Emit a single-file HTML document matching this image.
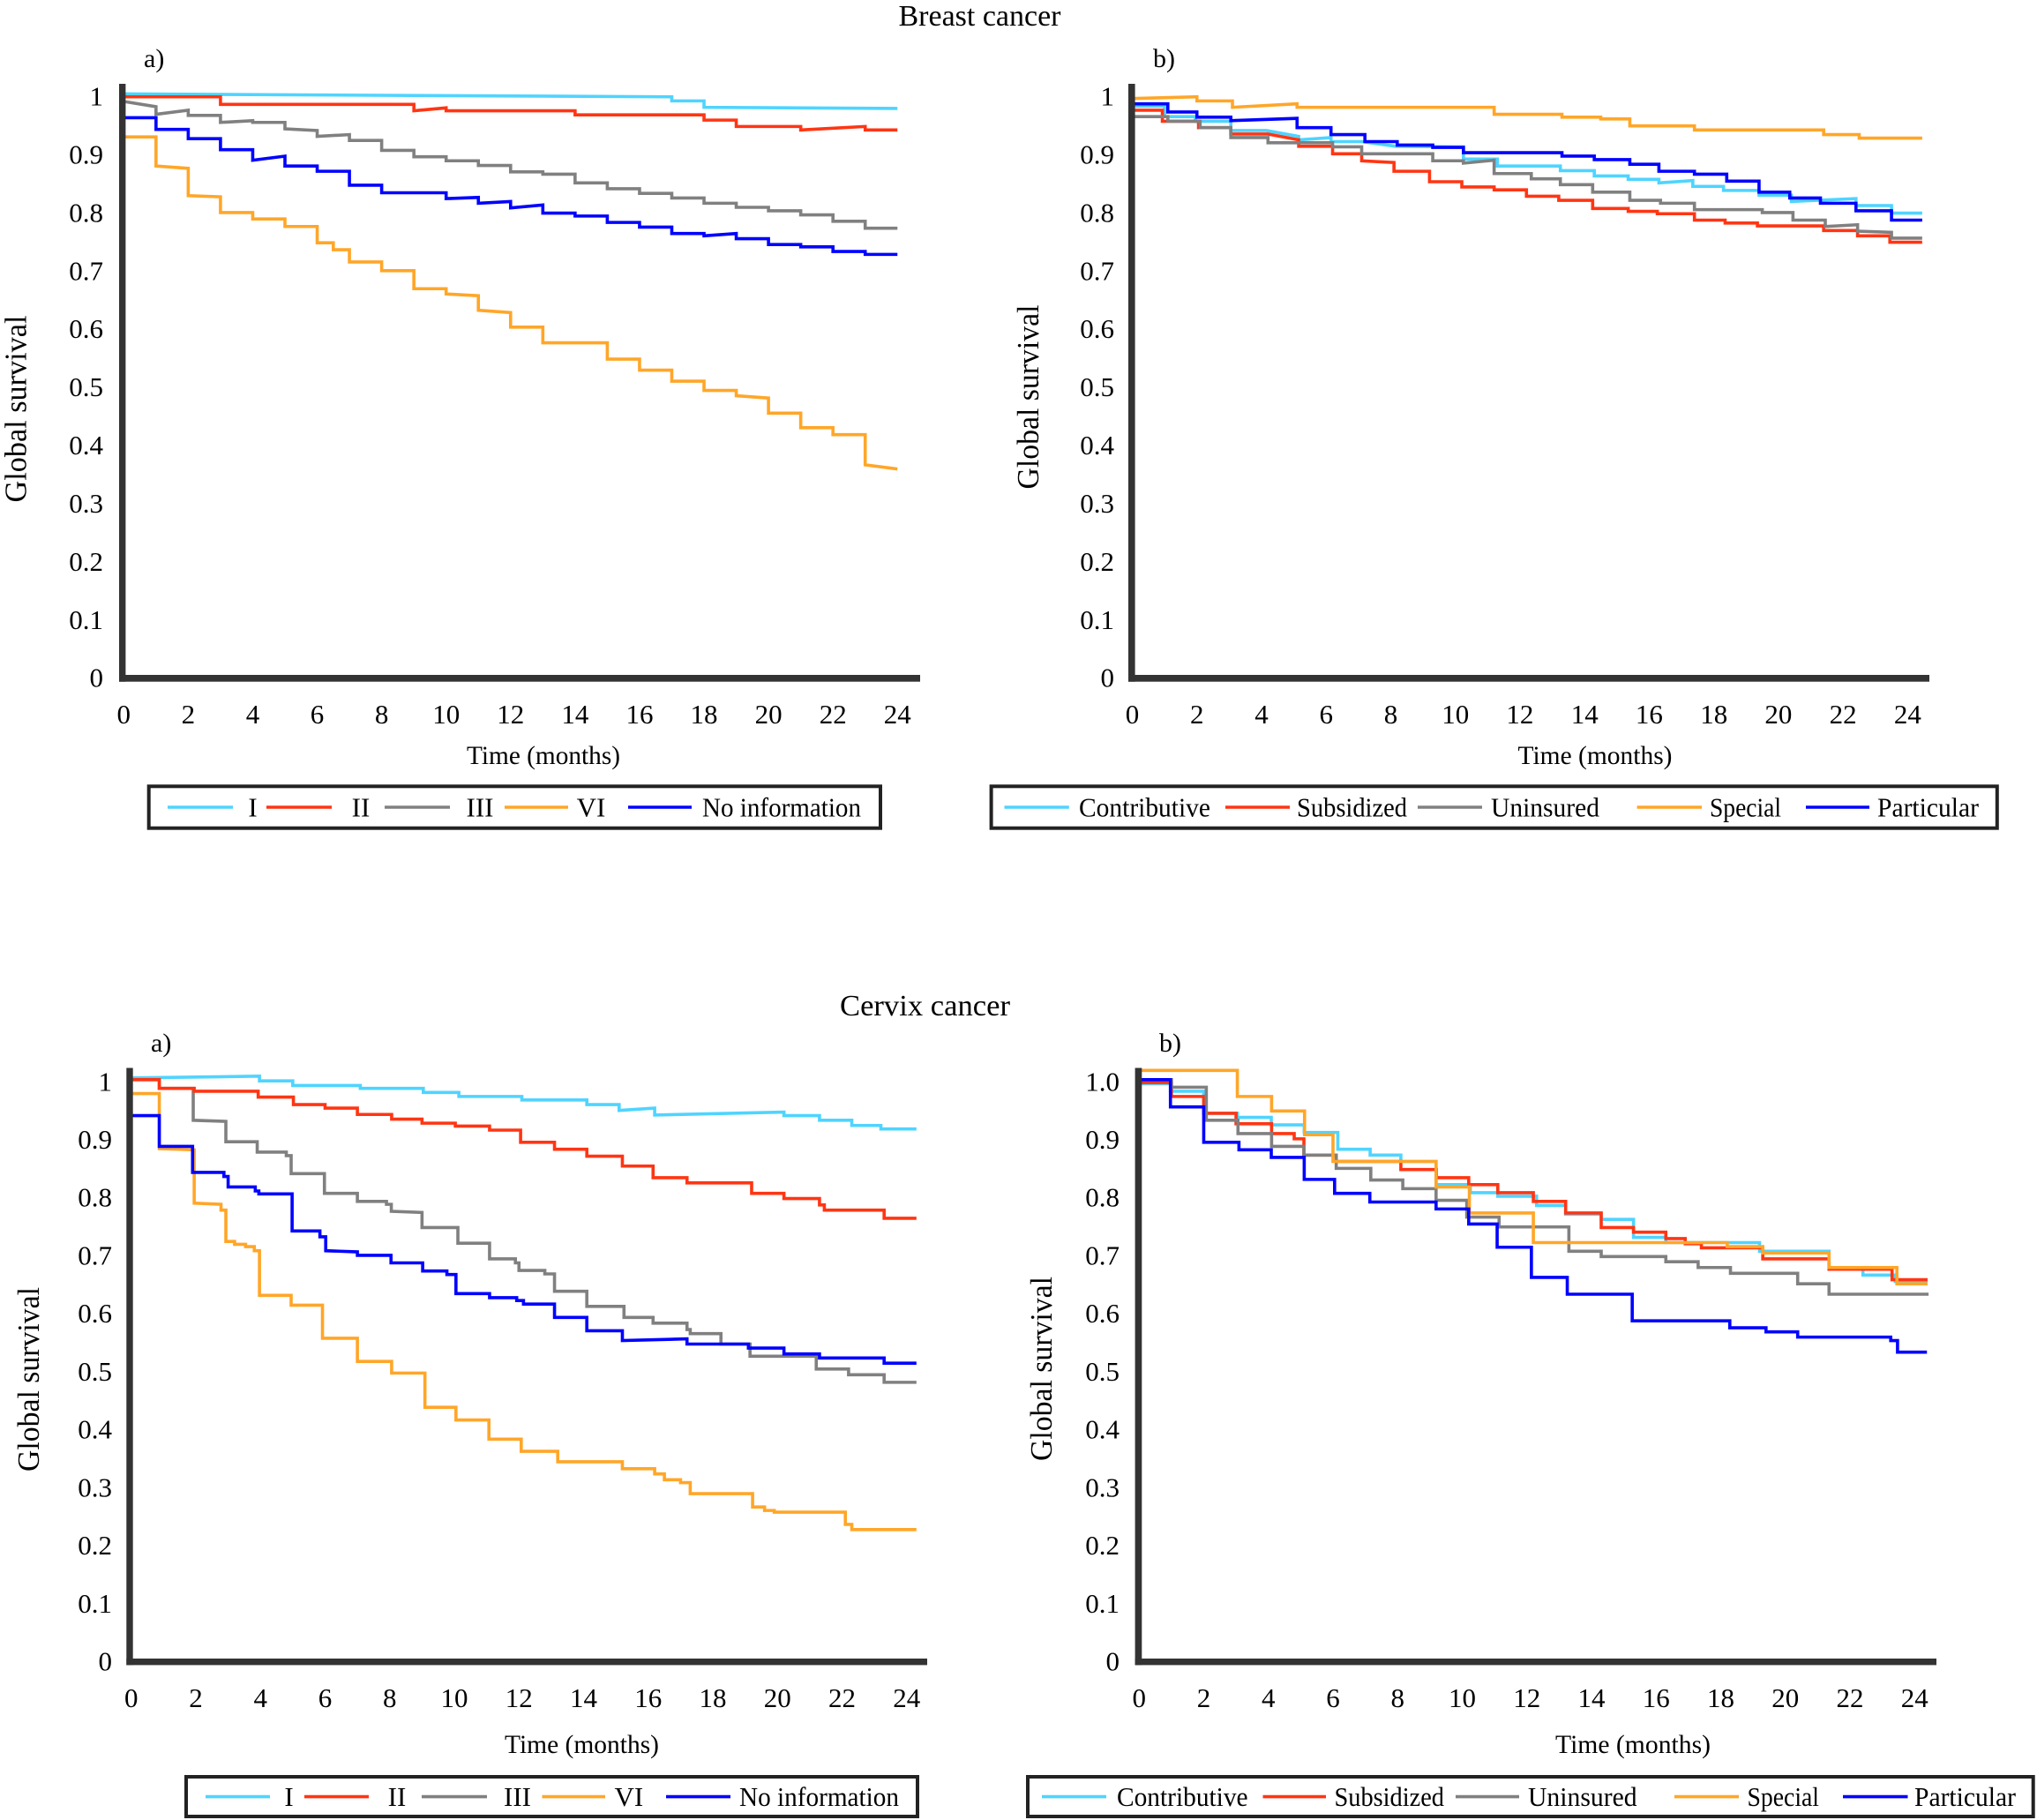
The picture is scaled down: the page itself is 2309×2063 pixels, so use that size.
<!DOCTYPE html>
<html>
<head>
<meta charset="utf-8">
<style>
html,body{margin:0;padding:0;background:#fff;}
svg{display:block;}
text{font-family:"Liberation Serif",serif;fill:#000;}
.t{font-size:31px;}
.c polyline{fill:none;stroke-width:3.6;stroke-linejoin:miter;stroke-linecap:butt;}
.cy{stroke:#4FD4FF;} .rd{stroke:#FF3513;} .gy{stroke:#808080;} .or{stroke:#FFA628;} .bl{stroke:#0000FF;}
</style>
</head>
<body>
<svg width="2309" height="2063" viewBox="0 0 2309 2063" xmlns="http://www.w3.org/2000/svg">
<rect width="2309" height="2063" fill="#fff"/>

<!-- Titles -->
<text x="1110.5" y="29" font-size="34" text-anchor="middle" textLength="184" lengthAdjust="spacingAndGlyphs">Breast cancer</text>
<text x="1048.5" y="1151" font-size="34" text-anchor="middle" textLength="193" lengthAdjust="spacingAndGlyphs">Cervix cancer</text>

<!-- ============ TOP LEFT ============ -->
<text x="163" y="76" font-size="30">a)</text>
<g class="c" transform="translate(140.3,768.2) scale(36.54,-659.1)">
<polyline class="cy" vector-effect="non-scaling-stroke" points="0,1.004 17,0.999 17,0.992 18,0.992 18,0.981 24,0.979"/>
<polyline class="rd" vector-effect="non-scaling-stroke" points="0,0.999 3,0.999 3,0.986 9,0.986 9,0.975 10,0.98 10,0.975 14,0.975 14,0.968 18,0.968 18,0.959 19,0.959 19,0.948 21,0.948 21,0.942 23,0.948 23,0.942 24,0.942"/>
<polyline class="gy" vector-effect="non-scaling-stroke" points="0,0.991 1,0.982 1,0.969 2,0.976 2,0.967 3,0.967 3,0.955 4,0.958 4,0.955 5,0.955 5,0.944 6,0.941 6,0.931 7,0.934 7,0.924 8,0.924 8,0.907 9,0.907 9,0.896 10,0.896 10,0.889 11,0.889 11,0.881 12,0.881 12,0.870 13,0.870 13,0.866 14,0.866 14,0.851 15,0.851 15,0.841 16,0.841 16,0.833 17,0.833 17,0.825 18,0.825 18,0.816 19,0.816 19,0.809 20,0.809 20,0.803 21,0.803 21,0.796 22,0.796 22,0.785 23,0.785 23,0.773 24,0.773"/>
<polyline class="or" vector-effect="non-scaling-stroke" points="0,1.0 0,0.930 1,0.930 1,0.880 2,0.876 2,0.829 3,0.827 3,0.800 4,0.800 4,0.789 5,0.789 5,0.776 6,0.776 6,0.748 6.5,0.748 6.5,0.736 7,0.736 7,0.715 8,0.715 8,0.700 9,0.700 9,0.669 10,0.669 10,0.660 11,0.657 11,0.632 12,0.628 12,0.603 13,0.603 13,0.576 15,0.576 15,0.548 16,0.548 16,0.529 17,0.529 17,0.510 18,0.510 18,0.494 19,0.494 19,0.485 20,0.481 20,0.455 21,0.455 21,0.430 22,0.430 22,0.418 23,0.418 23,0.366 24,0.359"/>
<polyline class="bl" vector-effect="non-scaling-stroke" points="0,0.985 0,0.963 1,0.963 1,0.943 2,0.943 2,0.927 3,0.927 3,0.908 4,0.908 4,0.890 5,0.897 5,0.880 6,0.880 6,0.871 7,0.871 7,0.847 8,0.847 8,0.834 10,0.834 10,0.824 11,0.826 11,0.816 12,0.819 12,0.808 13,0.813 13,0.799 14,0.799 14,0.794 15,0.794 15,0.783 16,0.783 16,0.775 17,0.775 17,0.764 18,0.764 18,0.760 19,0.764 19,0.755 20,0.755 20,0.745 21,0.745 21,0.741 22,0.741 22,0.733 23,0.733 23,0.728 24,0.728"/>
</g>
<rect x="135" y="95" width="7.4" height="677.7" fill="#333"/>
<rect x="135" y="765" width="908" height="7.7" fill="#333"/>
<g class="t" text-anchor="end">
<text x="117" y="119.6">1</text>
<text x="117" y="185.5">0.9</text>
<text x="117" y="251.4">0.8</text>
<text x="117" y="317.3">0.7</text>
<text x="117" y="383.2">0.6</text>
<text x="117" y="449.2">0.5</text>
<text x="117" y="515.1">0.4</text>
<text x="117" y="581.0">0.3</text>
<text x="117" y="646.9">0.2</text>
<text x="117" y="712.8">0.1</text>
<text x="117" y="778.7">0</text>
</g>
<g class="t" text-anchor="middle">
<text x="140.3" y="820">0</text>
<text x="213.4" y="820">2</text>
<text x="286.5" y="820">4</text>
<text x="359.5" y="820">6</text>
<text x="432.6" y="820">8</text>
<text x="505.7" y="820">10</text>
<text x="578.8" y="820">12</text>
<text x="651.9" y="820">14</text>
<text x="725" y="820">16</text>
<text x="798" y="820">18</text>
<text x="871.1" y="820">20</text>
<text x="944.2" y="820">22</text>
<text x="1017.3" y="820">24</text>
</g>
<text x="616" y="866" font-size="30" text-anchor="middle" textLength="174" lengthAdjust="spacingAndGlyphs">Time (months)</text>
<text transform="translate(29.5,463.5) rotate(-90)" font-size="35" text-anchor="middle" textLength="212" lengthAdjust="spacingAndGlyphs">Global survival</text>
<rect x="168.7" y="891.3" width="829.3" height="47.4" fill="#fff" stroke="#222" stroke-width="4"/>
<g stroke-width="3.6">
<line x1="190" y1="915" x2="264" y2="915" stroke="#4FD4FF"/>
<line x1="302" y1="915" x2="376" y2="915" stroke="#FF3513"/>
<line x1="436" y1="915" x2="510" y2="915" stroke="#808080"/>
<line x1="572" y1="915" x2="644" y2="915" stroke="#FFA628"/>
<line x1="712" y1="915" x2="784" y2="915" stroke="#0000FF"/>
</g>
<g class="t">
<text x="286.5" y="925.7" text-anchor="middle">I</text>
<text x="409" y="925.7" text-anchor="middle">II</text>
<text x="544" y="925.7" text-anchor="middle">III</text>
<text x="670" y="925.7" text-anchor="middle">VI</text>
<text x="796" y="925.7" textLength="180" lengthAdjust="spacingAndGlyphs">No information</text>
</g>

<!-- ============ TOP RIGHT ============ -->
<text x="1307" y="76" font-size="30">b)</text>
<g class="c" transform="translate(1283.5,768.2) scale(36.62,-659.1)">
<polyline class="cy" vector-effect="non-scaling-stroke" points="0,0.983 1.0,0.983 1.0,0.965 1.95,0.965 1.95,0.957 3.05,0.957 3.05,0.941 4.15,0.941 5.15,0.931 5.15,0.925 6.15,0.929 6.15,0.922 7.1,0.922 8.15,0.914 10.25,0.913 10.25,0.892 11.3,0.892 11.3,0.880 13.25,0.880 13.25,0.872 14.3,0.872 14.3,0.863 15.35,0.863 15.35,0.857 16.3,0.857 16.3,0.851 17.35,0.855 17.35,0.845 18.3,0.845 18.3,0.838 19.4,0.838 19.4,0.830 20.4,0.830 20.4,0.819 22.4,0.824 22.4,0.812 23.5,0.812 23.5,0.799 24.45,0.799"/>
<polyline class="rd" vector-effect="non-scaling-stroke" points="0,0.976 0.93,0.976 0.93,0.957 2.05,0.957 2.05,0.946 3.05,0.946 3.05,0.935 4.2,0.935 5.15,0.925 5.15,0.914 6.2,0.914 6.2,0.901 7.1,0.901 7.1,0.889 8.1,0.886 8.1,0.871 9.2,0.871 9.2,0.853 10.2,0.853 10.2,0.844 11.2,0.844 11.2,0.839 12.2,0.839 12.2,0.828 13.2,0.828 13.2,0.821 14.25,0.821 14.25,0.807 15.35,0.807 15.35,0.802 16.25,0.802 16.25,0.798 17.4,0.798 17.4,0.787 18.35,0.787 18.35,0.782 19.35,0.782 19.35,0.777 21.4,0.777 21.4,0.769 22.45,0.769 22.45,0.760 23.45,0.760 23.45,0.749 24.45,0.749"/>
<polyline class="gy" vector-effect="non-scaling-stroke" points="0,0.965 1.1,0.965 1.1,0.957 2.1,0.957 2.1,0.946 3.05,0.946 3.05,0.929 4.2,0.929 4.2,0.920 6.2,0.920 6.2,0.913 7.1,0.913 7.1,0.901 9.3,0.901 9.3,0.889 10.25,0.889 10.25,0.885 11.2,0.890 11.2,0.867 12.35,0.867 12.35,0.858 13.25,0.858 13.25,0.848 14.25,0.848 14.25,0.835 15.4,0.835 15.4,0.821 16.35,0.821 16.35,0.816 17.4,0.816 17.4,0.805 19.5,0.805 19.5,0.800 20.45,0.800 20.45,0.787 21.45,0.787 21.45,0.776 22.45,0.779 22.45,0.768 23.5,0.766 23.5,0.756 24.45,0.756"/>
<polyline class="or" vector-effect="non-scaling-stroke" points="0,0.996 2,0.999 2,0.992 3.1,0.992 3.1,0.981 5.1,0.987 5.1,0.981 11.2,0.981 11.2,0.969 13.3,0.969 13.3,0.964 14.5,0.964 14.5,0.961 15.4,0.961 15.4,0.949 17.4,0.949 17.4,0.942 21.4,0.942 21.4,0.934 22.5,0.934 22.5,0.928 24.45,0.928"/>
<polyline class="bl" vector-effect="non-scaling-stroke" points="0,0.987 1.1,0.987 1.1,0.973 2,0.973 2,0.964 3.05,0.964 3.05,0.958 5.1,0.962 5.1,0.946 6.15,0.946 6.15,0.934 7.2,0.934 7.2,0.922 8.2,0.922 8.2,0.916 9.3,0.916 9.3,0.912 10.25,0.912 10.25,0.903 13.3,0.903 13.3,0.897 14.3,0.897 14.3,0.891 15.4,0.891 15.4,0.883 16.3,0.883 16.3,0.871 17.4,0.871 17.4,0.866 18.4,0.866 18.4,0.854 19.4,0.854 19.4,0.835 20.35,0.835 20.35,0.825 21.3,0.825 21.3,0.816 22.4,0.816 22.4,0.803 23.5,0.803 23.5,0.787 24.45,0.787"/>
</g>
<rect x="1279" y="95" width="7.6" height="677.7" fill="#333"/>
<rect x="1279" y="765" width="908" height="7.7" fill="#333"/>
<g class="t" text-anchor="end">
<text x="1263" y="119.6">1</text>
<text x="1263" y="185.5">0.9</text>
<text x="1263" y="251.4">0.8</text>
<text x="1263" y="317.3">0.7</text>
<text x="1263" y="383.2">0.6</text>
<text x="1263" y="449.2">0.5</text>
<text x="1263" y="515.1">0.4</text>
<text x="1263" y="581.0">0.3</text>
<text x="1263" y="646.9">0.2</text>
<text x="1263" y="712.8">0.1</text>
<text x="1263" y="778.7">0</text>
</g>
<g class="t" text-anchor="middle">
<text x="1283.5" y="820">0</text>
<text x="1356.7" y="820">2</text>
<text x="1430" y="820">4</text>
<text x="1503.2" y="820">6</text>
<text x="1576.5" y="820">8</text>
<text x="1649.7" y="820">10</text>
<text x="1722.9" y="820">12</text>
<text x="1796.2" y="820">14</text>
<text x="1869.4" y="820">16</text>
<text x="1942.7" y="820">18</text>
<text x="2015.9" y="820">20</text>
<text x="2089.1" y="820">22</text>
<text x="2162.4" y="820">24</text>
</g>
<text x="1808" y="866" font-size="30" text-anchor="middle" textLength="175" lengthAdjust="spacingAndGlyphs">Time (months)</text>
<text transform="translate(1177,450) rotate(-90)" font-size="35" text-anchor="middle" textLength="209" lengthAdjust="spacingAndGlyphs">Global survival</text>
<rect x="1123.6" y="891.3" width="1140.2" height="47.4" fill="#fff" stroke="#222" stroke-width="4"/>
<g stroke-width="3.6">
<line x1="1138.5" y1="915" x2="1211.8" y2="915" stroke="#4FD4FF"/>
<line x1="1389" y1="915" x2="1462" y2="915" stroke="#FF3513"/>
<line x1="1607" y1="915" x2="1680" y2="915" stroke="#808080"/>
<line x1="1855.6" y1="915" x2="1929" y2="915" stroke="#FFA628"/>
<line x1="2047" y1="915" x2="2119" y2="915" stroke="#0000FF"/>
</g>
<g class="t">
<text x="1223" y="925.7" textLength="149" lengthAdjust="spacingAndGlyphs">Contributive</text>
<text x="1470" y="925.7" textLength="125" lengthAdjust="spacingAndGlyphs">Subsidized</text>
<text x="1690" y="925.7" textLength="123" lengthAdjust="spacingAndGlyphs">Uninsured</text>
<text x="1938" y="925.7" textLength="81" lengthAdjust="spacingAndGlyphs">Special</text>
<text x="2128" y="925.7" textLength="115" lengthAdjust="spacingAndGlyphs">Particular</text>
</g>

<!-- ============ BOTTOM LEFT ============ -->
<text x="171" y="1192" font-size="30">a)</text>
<g class="c" transform="translate(148.7,1883) scale(36.63,-657.2)">
<polyline class="cy" vector-effect="non-scaling-stroke" points="0,1.006 3.97,1.009 3.97,1.001 5.0,1.001 5.0,0.993 7.09,0.993 7.09,0.988 9.04,0.988 9.04,0.981 10.14,0.981 10.14,0.974 12.09,0.974 12.09,0.968 14.1,0.968 14.1,0.960 15.1,0.960 15.1,0.950 16.2,0.954 16.2,0.942 20.2,0.947 20.2,0.941 21.3,0.941 21.3,0.933 22.3,0.933 22.3,0.924 23.2,0.924 23.2,0.918 24.3,0.918"/>
<polyline class="gy" vector-effect="non-scaling-stroke" points="0,1.003 0.87,1.003 0.87,0.988 1.92,0.988 1.92,0.933 2.93,0.931 2.93,0.896 3.9,0.896 3.9,0.878 4.8,0.878 4.8,0.872 4.95,0.872 4.95,0.841 5.98,0.841 5.98,0.807 7.0,0.807 7.0,0.793 7.9,0.793 7.9,0.788 8.05,0.788 8.05,0.776 9.0,0.774 9.0,0.748 10.11,0.748 10.11,0.721 11.09,0.721 11.09,0.694 11.89,0.694 11.89,0.687 12.0,0.687 12.0,0.674 12.8,0.674 12.8,0.668 13.1,0.668 13.1,0.638 14.1,0.638 14.1,0.612 15.25,0.612 15.25,0.593 16.15,0.593 16.15,0.583 17.2,0.583 17.2,0.572 17.3,0.572 17.3,0.565 18.25,0.565 18.25,0.547 19.15,0.547 19.15,0.526 21.2,0.526 21.2,0.504 22.2,0.504 22.2,0.494 23.3,0.494 23.3,0.481 24.3,0.481"/>
<polyline class="rd" vector-effect="non-scaling-stroke" points="0,1.003 0.87,1.003 0.87,0.988 1.95,0.988 1.95,0.983 3.93,0.983 3.93,0.973 5.02,0.973 5.02,0.960 6.0,0.960 6.0,0.954 7.0,0.954 7.0,0.943 8.06,0.943 8.06,0.935 9.0,0.935 9.0,0.928 10.03,0.928 10.03,0.923 11.09,0.923 11.09,0.916 12.05,0.916 12.05,0.895 13.1,0.895 13.1,0.883 14.1,0.883 14.1,0.871 15.2,0.871 15.2,0.854 16.15,0.854 16.15,0.834 17.2,0.834 17.2,0.825 19.2,0.825 19.2,0.807 20.2,0.807 20.2,0.798 21.3,0.798 21.3,0.787 21.45,0.787 21.45,0.778 23.3,0.778 23.3,0.764 24.3,0.764"/>
<polyline class="or" vector-effect="non-scaling-stroke" points="0,0.979 0.87,0.979 0.87,0.884 1.95,0.882 1.95,0.790 2.78,0.788 2.78,0.778 2.93,0.778 2.93,0.724 3.2,0.724 3.2,0.719 3.54,0.719 3.54,0.715 3.81,0.715 3.81,0.708 3.97,0.708 3.97,0.631 4.95,0.631 4.95,0.614 5.92,0.614 5.92,0.557 7.0,0.557 7.0,0.517 8.06,0.517 8.06,0.497 9.09,0.497 9.09,0.438 10.05,0.438 10.05,0.416 11.07,0.416 11.07,0.383 12.07,0.383 12.07,0.362 13.2,0.362 13.2,0.344 15.2,0.344 15.2,0.332 16.2,0.332 16.2,0.323 16.5,0.323 16.5,0.313 17.0,0.313 17.0,0.308 17.3,0.308 17.3,0.289 19.23,0.289 19.23,0.266 19.6,0.266 19.6,0.260 19.9,0.260 19.9,0.257 22.1,0.257 22.1,0.236 22.3,0.236 22.3,0.227 24.3,0.227"/>
<polyline class="bl" vector-effect="non-scaling-stroke" points="0,0.941 0.87,0.941 0.87,0.888 1.9,0.888 1.9,0.843 2.87,0.843 2.87,0.836 3.0,0.836 3.0,0.818 3.84,0.818 3.84,0.811 3.95,0.811 3.95,0.806 4.98,0.806 4.98,0.742 5.84,0.742 5.84,0.732 6.02,0.732 6.02,0.708 7.0,0.706 7.0,0.700 8.04,0.700 8.04,0.687 9.02,0.687 9.02,0.673 9.77,0.673 9.77,0.667 10.05,0.667 10.05,0.634 11.09,0.634 11.09,0.627 11.93,0.627 11.93,0.622 12.14,0.622 12.14,0.616 13.1,0.616 13.1,0.593 14.1,0.593 14.1,0.570 15.2,0.570 15.2,0.553 17.2,0.556 17.2,0.547 19.1,0.547 19.1,0.540 20.2,0.540 20.2,0.530 21.3,0.530 21.3,0.523 23.3,0.523 23.3,0.514 24.3,0.514"/>
</g>
<rect x="143.3" y="1210.5" width="7.4" height="676.9" fill="#333"/>
<rect x="143.3" y="1880" width="907.7" height="7.4" fill="#333"/>
<g class="t" text-anchor="end">
<text x="127" y="1236.3">1</text>
<text x="127" y="1302">0.9</text>
<text x="127" y="1367.7">0.8</text>
<text x="127" y="1433.5">0.7</text>
<text x="127" y="1499.2">0.6</text>
<text x="127" y="1564.9">0.5</text>
<text x="127" y="1630.6">0.4</text>
<text x="127" y="1696.3">0.3</text>
<text x="127" y="1762.1">0.2</text>
<text x="127" y="1827.8">0.1</text>
<text x="127" y="1893.5">0</text>
</g>
<g class="t" text-anchor="middle">
<text x="148.7" y="1935">0</text>
<text x="222" y="1935">2</text>
<text x="295.2" y="1935">4</text>
<text x="368.5" y="1935">6</text>
<text x="441.7" y="1935">8</text>
<text x="515" y="1935">10</text>
<text x="588.2" y="1935">12</text>
<text x="661.5" y="1935">14</text>
<text x="734.8" y="1935">16</text>
<text x="808" y="1935">18</text>
<text x="881.3" y="1935">20</text>
<text x="954.5" y="1935">22</text>
<text x="1027.8" y="1935">24</text>
</g>
<text x="659.5" y="1987" font-size="30" text-anchor="middle" textLength="175" lengthAdjust="spacingAndGlyphs">Time (months)</text>
<text transform="translate(44,1563.5) rotate(-90)" font-size="35" text-anchor="middle" textLength="209" lengthAdjust="spacingAndGlyphs">Global survival</text>
<rect x="211" y="2014" width="829" height="45" fill="#fff" stroke="#222" stroke-width="4"/>
<g stroke-width="3.6">
<line x1="233" y1="2036.6" x2="306" y2="2036.6" stroke="#4FD4FF"/>
<line x1="345" y1="2036.6" x2="418" y2="2036.6" stroke="#FF3513"/>
<line x1="478" y1="2036.6" x2="552" y2="2036.6" stroke="#808080"/>
<line x1="614.5" y1="2036.6" x2="686" y2="2036.6" stroke="#FFA628"/>
<line x1="755" y1="2036.6" x2="828" y2="2036.6" stroke="#0000FF"/>
</g>
<g class="t">
<text x="327.6" y="2047" text-anchor="middle">I</text>
<text x="450" y="2047" text-anchor="middle">II</text>
<text x="586.5" y="2047" text-anchor="middle">III</text>
<text x="712.8" y="2047" text-anchor="middle">VI</text>
<text x="838" y="2047" textLength="181" lengthAdjust="spacingAndGlyphs">No information</text>
</g>

<!-- ============ BOTTOM RIGHT ============ -->
<text x="1314" y="1192" font-size="30">b)</text>
<g class="c" transform="translate(1291.2,1883) scale(36.63,-657.2)">
<polyline class="cy" vector-effect="non-scaling-stroke" points="0,0.996 0.97,0.996 0.97,0.983 2.0,0.983 2.0,0.945 3.04,0.945 3.04,0.938 4.09,0.938 4.09,0.925 5.11,0.925 5.11,0.912 6.15,0.912 6.15,0.883 7.15,0.883 7.15,0.873 8.1,0.873 8.1,0.862 9.19,0.862 9.19,0.822 10.25,0.822 10.25,0.808 11.1,0.808 11.1,0.802 12.3,0.802 12.3,0.786 13.2,0.786 13.2,0.771 14.3,0.771 14.3,0.762 15.3,0.762 15.3,0.731 16.3,0.731 16.3,0.722 19.2,0.722 19.2,0.707 21.35,0.707 21.35,0.678 22.4,0.678 22.4,0.666 23.4,0.666 23.4,0.655 24.4,0.655"/>
<polyline class="rd" vector-effect="non-scaling-stroke" points="0,0.998 1.0,0.998 1.0,0.974 2.0,0.974 2.0,0.945 3.0,0.945 3.0,0.927 4.1,0.927 4.1,0.910 4.8,0.910 4.8,0.901 5.1,0.901 5.1,0.873 6.1,0.873 6.1,0.862 8.1,0.862 8.1,0.848 9.2,0.848 9.2,0.834 10.2,0.834 10.2,0.822 11.1,0.822 11.1,0.808 12.2,0.808 12.2,0.793 13.2,0.793 13.2,0.773 14.3,0.773 14.3,0.748 15.3,0.748 15.3,0.740 16.3,0.740 16.3,0.729 16.9,0.729 16.9,0.720 17.4,0.720 17.4,0.713 19.3,0.713 19.3,0.694 21.35,0.694 21.35,0.676 23.3,0.676 23.3,0.658 24.4,0.658"/>
<polyline class="gy" vector-effect="non-scaling-stroke" points="0,1.003 1.0,1.003 1.0,0.990 2.08,0.990 2.08,0.933 3.06,0.933 3.06,0.910 4.1,0.910 4.1,0.888 5.1,0.888 5.1,0.873 6.1,0.873 6.1,0.850 7.17,0.850 7.17,0.830 8.16,0.830 8.16,0.815 9.19,0.815 9.19,0.795 10.14,0.795 10.14,0.766 11.14,0.766 11.14,0.749 13.3,0.749 13.3,0.707 14.3,0.707 14.3,0.698 16.3,0.698 16.3,0.689 17.3,0.689 17.3,0.679 18.3,0.679 18.3,0.669 20.38,0.669 20.38,0.651 21.35,0.651 21.35,0.633 24.43,0.633"/>
<polyline class="or" vector-effect="non-scaling-stroke" points="0,1.019 3.04,1.019 3.04,0.974 4.1,0.974 4.1,0.949 5.12,0.949 5.12,0.908 6.0,0.908 6.0,0.862 9.19,0.862 9.19,0.818 10.22,0.818 10.22,0.773 12.2,0.773 12.2,0.722 18.2,0.722 18.2,0.715 19.3,0.715 19.3,0.704 21.35,0.704 21.35,0.679 23.45,0.679 23.45,0.651 24.4,0.651"/>
<polyline class="bl" vector-effect="non-scaling-stroke" points="0,1.003 0.97,1.003 0.97,0.956 2.0,0.956 2.0,0.895 3.09,0.895 3.09,0.882 4.09,0.882 4.09,0.869 5.11,0.869 5.11,0.831 6.05,0.831 6.05,0.807 7.14,0.807 7.14,0.792 9.19,0.792 9.19,0.780 10.2,0.780 10.2,0.754 11.08,0.754 11.08,0.714 12.14,0.714 12.14,0.662 13.25,0.662 13.25,0.633 15.26,0.633 15.26,0.587 18.28,0.587 18.28,0.575 19.4,0.575 19.4,0.568 20.38,0.568 20.38,0.559 23.26,0.559 23.26,0.553 23.47,0.553 23.47,0.533 24.38,0.533"/>
</g>
<rect x="1286.6" y="1210.5" width="7.7" height="676.9" fill="#333"/>
<rect x="1286.6" y="1880" width="908.4" height="7.4" fill="#333"/>
<g class="t" text-anchor="end">
<text x="1269" y="1236.3">1.0</text>
<text x="1269" y="1302">0.9</text>
<text x="1269" y="1367.7">0.8</text>
<text x="1269" y="1433.5">0.7</text>
<text x="1269" y="1499.2">0.6</text>
<text x="1269" y="1564.9">0.5</text>
<text x="1269" y="1630.6">0.4</text>
<text x="1269" y="1696.3">0.3</text>
<text x="1269" y="1762.1">0.2</text>
<text x="1269" y="1827.8">0.1</text>
<text x="1269" y="1893.5">0</text>
</g>
<g class="t" text-anchor="middle">
<text x="1291.2" y="1935">0</text>
<text x="1364.5" y="1935">2</text>
<text x="1437.7" y="1935">4</text>
<text x="1511" y="1935">6</text>
<text x="1584.2" y="1935">8</text>
<text x="1657.5" y="1935">10</text>
<text x="1730.8" y="1935">12</text>
<text x="1804" y="1935">14</text>
<text x="1877.3" y="1935">16</text>
<text x="1950.5" y="1935">18</text>
<text x="2023.8" y="1935">20</text>
<text x="2097" y="1935">22</text>
<text x="2170.3" y="1935">24</text>
</g>
<text x="1851" y="1987" font-size="30" text-anchor="middle" textLength="176" lengthAdjust="spacingAndGlyphs">Time (months)</text>
<text transform="translate(1192,1551.5) rotate(-90)" font-size="35" text-anchor="middle" textLength="209" lengthAdjust="spacingAndGlyphs">Global survival</text>
<rect x="1165" y="2014" width="1139.7" height="45" fill="#fff" stroke="#222" stroke-width="4"/>
<g stroke-width="3.6">
<line x1="1181" y1="2036.6" x2="1254" y2="2036.6" stroke="#4FD4FF"/>
<line x1="1431.5" y1="2036.6" x2="1503" y2="2036.6" stroke="#FF3513"/>
<line x1="1650" y1="2036.6" x2="1722" y2="2036.6" stroke="#808080"/>
<line x1="1898" y1="2036.6" x2="1971" y2="2036.6" stroke="#FFA628"/>
<line x1="2089" y1="2036.6" x2="2162.5" y2="2036.6" stroke="#0000FF"/>
</g>
<g class="t">
<text x="1266" y="2047" textLength="148.6" lengthAdjust="spacingAndGlyphs">Contributive</text>
<text x="1512.5" y="2047" textLength="124.5" lengthAdjust="spacingAndGlyphs">Subsidized</text>
<text x="1732" y="2047" textLength="123.6" lengthAdjust="spacingAndGlyphs">Uninsured</text>
<text x="1980.5" y="2047" textLength="81.5" lengthAdjust="spacingAndGlyphs">Special</text>
<text x="2170" y="2047" textLength="115" lengthAdjust="spacingAndGlyphs">Particular</text>
</g>
</svg>
</body>
</html>
